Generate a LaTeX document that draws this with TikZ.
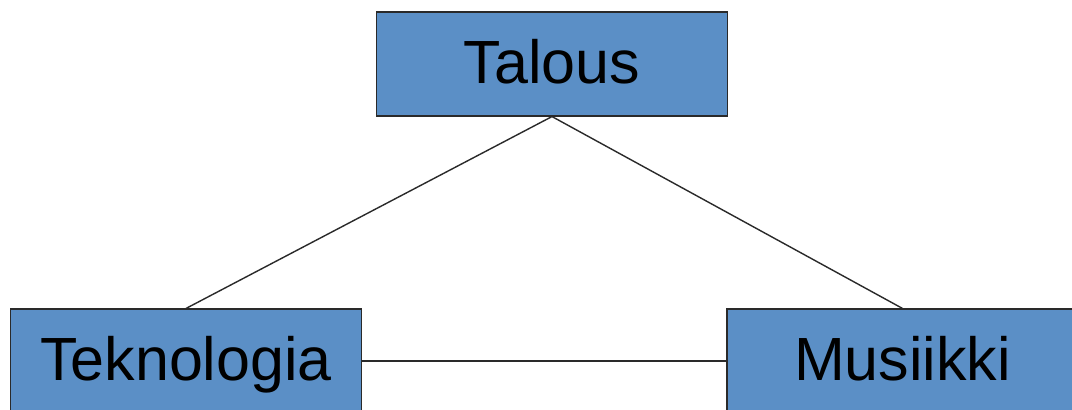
\documentclass[tikz,border=0pt]{standalone}
\usepackage{fontspec}
\setmainfont{Liberation Sans}
\definecolor{boxblue}{HTML}{5B8FC6}
\definecolor{edgegray}{HTML}{2A2A2A}
\begin{document}
\begin{tikzpicture}[x=1pt,y=-1pt,
  topicbox/.style={draw=edgegray,line width=1.1pt,fill=boxblue,minimum width=351pt,minimum height=104pt,inner sep=0pt,font=\fontsize{61}{63}\selectfont,text=black,text height=43.7pt,text depth=4pt},
  link/.style={draw=edgegray,line width=1.4pt}]
\useasboundingbox (0,0) rectangle (1072,410);
\clip (0,0) rectangle (1072,410);
\fill[white] (0,0) rectangle (1072,410);
\node[topicbox] (talous) at (552,64) {Talous};
\node[topicbox] (tekno) at (186,361) {Teknologia};
\node[topicbox] (musiikki) at (902.5,361) {Musiikki};
\draw[link] (talous.south) -- (tekno.north);
\draw[link] (talous.south) -- (musiikki.north);
\draw[link] (tekno.east) -- (musiikki.west);
\end{tikzpicture}
\end{document}
